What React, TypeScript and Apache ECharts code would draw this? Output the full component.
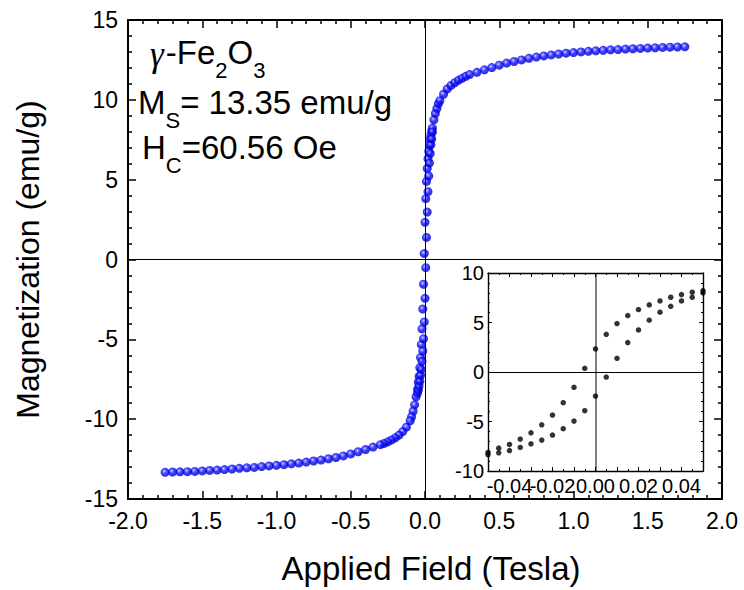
import React, { useEffect, useRef } from 'react';
import * as echarts from 'echarts';

// Main hysteresis curve, outside the low-field loop (Tesla, emu/g)
const fieldPos = [0.06, 0.07, 0.08, 0.09, 0.1, 0.125, 0.15, 0.175, 0.2, 0.225, 0.25, 0.275, 0.3, 0.35, 0.4, 0.45, 0.5, 0.55, 0.6, 0.65, 0.7, 0.75, 0.8, 0.85, 0.9, 0.95, 1.0, 1.05, 1.1, 1.15, 1.2, 1.25, 1.3, 1.35, 1.4, 1.45, 1.5, 1.55, 1.6, 1.65, 1.7, 1.75];
const momentPos = [8.75, 9.15, 9.45, 9.75, 9.95, 10.35, 10.68, 10.9, 11.07, 11.22, 11.35, 11.47, 11.58, 11.72, 11.88, 12.02, 12.17, 12.3, 12.4, 12.5, 12.6, 12.68, 12.75, 12.81, 12.87, 12.92, 12.96, 13.0, 13.04, 13.07, 13.1, 13.13, 13.15, 13.18, 13.2, 13.22, 13.24, 13.26, 13.28, 13.3, 13.31, 13.32];
const fieldNeg = [-0.06, -0.07, -0.08, -0.09, -0.1, -0.125, -0.15, -0.175, -0.2, -0.225, -0.25, -0.275, -0.3, -0.35, -0.4, -0.45, -0.5, -0.55, -0.6, -0.65, -0.7, -0.75, -0.8, -0.85, -0.9, -0.95, -1.0, -1.05, -1.1, -1.15, -1.2, -1.25, -1.3, -1.35, -1.4, -1.45, -1.5, -1.55, -1.6, -1.65, -1.7, -1.75];
const momentNeg = [-8.6, -9.1, -9.5, -9.85, -10.1, -10.5, -10.78, -11.0, -11.17, -11.3, -11.42, -11.52, -11.6, -11.75, -11.9, -12.04, -12.18, -12.3, -12.4, -12.48, -12.56, -12.62, -12.69, -12.75, -12.8, -12.85, -12.89, -12.93, -12.97, -13.02, -13.05, -13.08, -13.12, -13.16, -13.19, -13.21, -13.24, -13.27, -13.29, -13.3, -13.31, -13.33];

// Low-field loop (inset)
const fieldLoop = [-0.05, -0.045, -0.04, -0.035, -0.03, -0.025, -0.02, -0.015, -0.01, -0.005, 0, 0.005, 0.01, 0.015, 0.02, 0.025, 0.03, 0.035, 0.04, 0.045, 0.05];
const momentUpper = [-8.13, -7.69, -7.32, -6.78, -6.14, -5.33, -4.35, -3.1, -1.55, 0.37, 2.33, 3.81, 4.89, 5.7, 6.31, 6.78, 7.18, 7.55, 7.82, 8.06, 8.23];
const momentLower = [-8.36, -8.16, -7.93, -7.62, -7.25, -6.88, -6.37, -5.73, -4.96, -3.91, -2.43, -0.51, 1.38, 2.97, 4.25, 5.23, 6.04, 6.64, 7.18, 7.55, 7.99];

// Annotation lines: [text, kind] where n = normal, s = subscript, g = greek (serif)
const annotationLines: [string, string][][] = [
  [['γ', 'g'], ['-Fe', 'n'], ['2', 's'], ['O', 'n'], ['3', 's']],
  [['M', 'n'], ['S', 's'], ['= 13.35 emu/g', 'n']],
  [['H', 'n'], ['C', 's'], ['=60.56 Oe', 'n']],
];

const FONT = "'Liberation Sans', Arial, sans-serif";
const SERIF = "'Liberation Serif', 'Times New Roman', serif";

export default function App() {
  const ref = useRef<HTMLDivElement>(null);

  useEffect(() => {
    const chart = echarts.init(ref.current!, null, { renderer: 'svg' });

    const zip = (xs: number[], ys: number[]) => xs.map((x, i) => [x, ys[i]]);
    const mainData = [
      ...zip(fieldNeg, momentNeg),
      ...zip(fieldPos, momentPos),
      ...zip(fieldLoop, momentUpper),
      ...zip(fieldLoop, momentLower),
    ];
    const insetData = [...zip(fieldLoop, momentUpper), ...zip(fieldLoop, momentLower)];

    const sphere = {
      type: 'radial',
      x: 0.4,
      y: 0.38,
      r: 0.62,
      colorStops: [
        { offset: 0, color: '#e4e4ff' },
        { offset: 0.18, color: '#6a6aff' },
        { offset: 0.5, color: '#0808ff' },
        { offset: 1, color: '#0000c0' },
      ],
    };

    const mainTick = (show: boolean) => ({
      axisLine: { show: true, onZero: false, lineStyle: { color: '#000', width: 2 } },
      axisTick: { show: true, inside: true, length: 8, lineStyle: { color: '#000', width: 1.5 } },
      minorTick: { show: true, splitNumber: 5, length: 4, lineStyle: { color: '#000', width: 1.5 } },
      splitLine: { show: false },
      axisLabel: { show, color: '#000', fontFamily: FONT, fontSize: 23, margin: 10 },
    });

    const insetTick = (show: boolean) => ({
      axisLine: { show: true, onZero: false, lineStyle: { color: '#000', width: 1.4 } },
      axisTick: { show: true, inside: true, length: 4, lineStyle: { color: '#000', width: 1 } },
      minorTick: { show: true, length: 2, lineStyle: { color: '#000', width: 1 } },
      splitLine: { show: false },
      axisLabel: { show, color: '#000', fontFamily: FONT, fontSize: 20, margin: 4 },
    });

    const loopLabel = (v: number) => {
      const k = Math.round(v * 100);
      return k % 2 === 0 && Math.abs(k) <= 4 ? (Math.abs(v) < 1e-9 ? '0.00' : v.toFixed(2)) : '';
    };

    // Annotation text with true subscripts, laid out by measuring glyph widths
    const MAIN_SIZE = 33;
    const SUB_SIZE = 22;
    const SUB_DROP = 18;
    const lineStarts = [[150, 52], [138, 102], [142, 147]];
    const canvas = document.createElement('canvas');
    const ctx = canvas.getContext('2d')!;
    const graphics: any[] = [];
    annotationLines.forEach((pieces, li) => {
      let x = lineStarts[li][0];
      const cy = lineStarts[li][1];
      pieces.forEach(([t, kind]) => {
        const size = kind === 's' ? SUB_SIZE : kind === 'g' ? MAIN_SIZE + 2 : MAIN_SIZE;
        const family = kind === 'g' ? SERIF : FONT;
        ctx.font = `${kind === 'g' ? 'italic ' : ''}${size}px ${family}`;
        graphics.push({
          type: 'text',
          x,
          y: kind === 's' ? cy + SUB_DROP : cy + (kind === 'g' ? 2 : 0),
          z: 100,
          style: {
            text: t,
            fontSize: size,
            fontFamily: family,
            fontStyle: kind === 'g' ? 'italic' : 'normal',
            fill: '#000',
            align: 'left',
            textAlign: 'left',
            verticalAlign: 'middle',
            textVerticalAlign: 'middle',
          },
        });
        x += ctx.measureText(t).width + (kind === 'g' ? 2 : 0);
      });
    });

    const option: any = {
      animation: false,
      backgroundColor: '#fff',
      grid: [
        { left: 128, top: 20, width: 594, height: 480 },
        { left: 488, top: 273, width: 215, height: 198, show: true, backgroundColor: '#fff', borderWidth: 0, z: 5 },
      ],
      xAxis: [
        {
          type: 'value', gridIndex: 0, position: 'bottom', min: -2, max: 2, interval: 0.5,
          ...mainTick(true),
          axisLabel: { ...mainTick(true).axisLabel, formatter: (v: number) => v.toFixed(1) },
          name: 'Applied Field (Tesla)', nameLocation: 'middle', nameGap: 53,
          nameTextStyle: { color: '#000', fontFamily: FONT, fontSize: 33, padding: [0, 0, 0, 12] },
        },
        { type: 'value', gridIndex: 0, position: 'top', min: -2, max: 2, interval: 0.5, ...mainTick(false) },
        {
          type: 'value', gridIndex: 1, position: 'bottom', min: -0.05, max: 0.05, interval: 0.01, z: 6,
          ...insetTick(true),
          minorTick: { ...insetTick(true).minorTick, splitNumber: 2 },
          axisLabel: { ...insetTick(true).axisLabel, margin: 5, formatter: loopLabel },
        },
        {
          type: 'value', gridIndex: 1, position: 'top', min: -0.05, max: 0.05, interval: 0.01, z: 6,
          ...insetTick(false),
          minorTick: { ...insetTick(false).minorTick, splitNumber: 2 },
        },
      ],
      yAxis: [
        {
          type: 'value', gridIndex: 0, position: 'left', min: -15, max: 15, interval: 5,
          ...mainTick(true),
          name: 'Magnetization (emu/g)', nameLocation: 'middle', nameGap: 84,
          nameTextStyle: { color: '#000', fontFamily: FONT, fontSize: 32 },
        },
        { type: 'value', gridIndex: 0, position: 'right', min: -15, max: 15, interval: 5, ...mainTick(false) },
        {
          type: 'value', gridIndex: 1, position: 'left', min: -10, max: 10, interval: 5, z: 6,
          ...insetTick(true),
          minorTick: { ...insetTick(true).minorTick, splitNumber: 5 },
        },
        {
          type: 'value', gridIndex: 1, position: 'right', min: -10, max: 10, interval: 5, z: 6,
          ...insetTick(false),
          minorTick: { ...insetTick(false).minorTick, splitNumber: 5 },
        },
      ],
      series: [
        {
          type: 'scatter',
          xAxisIndex: 0,
          yAxisIndex: 0,
          symbol: 'circle',
          symbolSize: 9,
          data: mainData,
          itemStyle: { color: sphere, borderWidth: 0 },
          markLine: {
            silent: true,
            symbol: 'none',
            label: { show: false },
            lineStyle: { color: '#000', width: 1, type: 'solid' },
            data: [{ xAxis: 0 }, { yAxis: 0 }],
          },
          z: 3,
        },
        {
          type: 'scatter',
          xAxisIndex: 2,
          yAxisIndex: 2,
          symbol: 'circle',
          symbolSize: 5.5,
          data: insetData,
          itemStyle: { color: '#000' },
          markLine: {
            silent: true,
            symbol: 'none',
            label: { show: false },
            data: [
              { xAxis: 0, lineStyle: { color: '#555', width: 1.5, type: 'solid' } },
              { yAxis: 0, lineStyle: { color: '#000', width: 1, type: 'solid' } },
            ],
          },
          z: 7,
        },
      ],
      graphic: graphics,
    };

    chart.setOption(option);
    return () => chart.dispose();
  }, []);

  return (
    <div
      ref={ref}
      style={{ position: 'absolute', left: 0, top: 0, width: 744, height: 590, background: '#fff' }}
    />
  );
}
